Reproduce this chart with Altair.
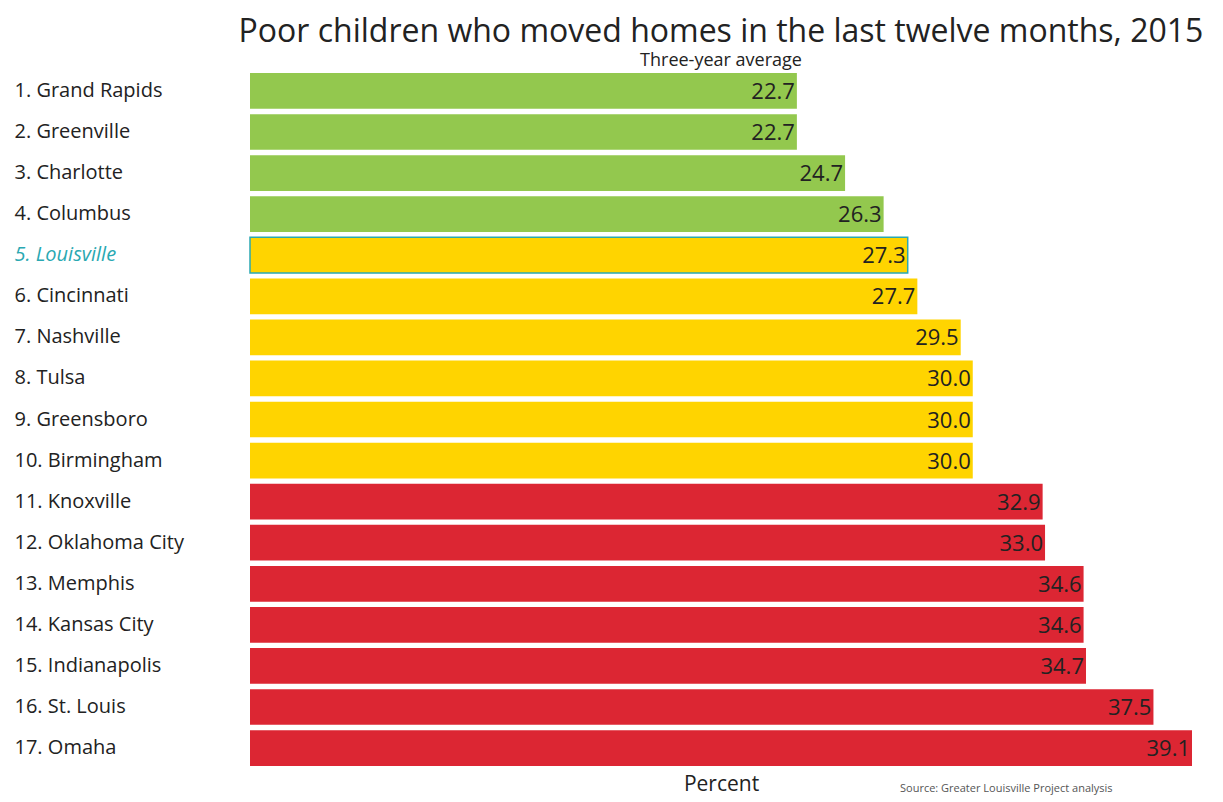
import altair as alt
import pandas as pd

cities = ["1. Grand Rapids", "2. Greenville", "3. Charlotte", "4. Columbus",
          "5. Louisville", "6. Cincinnati", "7. Nashville", "8. Tulsa",
          "9. Greensboro", "10. Birmingham", "11. Knoxville", "12. Oklahoma City",
          "13. Memphis", "14. Kansas City", "15. Indianapolis", "16. St. Louis",
          "17. Omaha"]
values = [22.7, 22.7, 24.7, 26.3, 27.3, 27.7, 29.5, 30.0, 30.0, 30.0,
          32.9, 33.0, 34.6, 34.6, 34.7, 37.5, 39.1]
groups = ["top"] * 4 + ["mid"] * 6 + ["bottom"] * 7
highlight = "5. Louisville"
source_text = "Source: Greater Louisville Project analysis"

df = pd.DataFrame({"city": cities, "value": values, "group": groups})
df["label"] = df["value"].map(lambda v: f"{v:.1f}")
df["hl"] = df["city"] == highlight

FONT = "Open Sans"
TEAL = "#2aa8b2"
INK = "#222222"
W, H = 942, 697

y = alt.Y("city:N", sort=cities, title=None,
          scale=alt.Scale(paddingInner=0.13, paddingOuter=0.05),
          axis=alt.Axis(labelAlign="left", labelPadding=236, ticks=False, domain=False,
                        labelFontSize=20, labelFont=FONT,
                        labelColor=alt.expr(f"datum.value == '{highlight}' ? '{TEAL}' : '{INK}'"),
                        labelFontStyle=alt.expr(f"datum.value == '{highlight}' ? 'italic' : 'normal'"),
                        labelLimit=240))
x = alt.X("value:Q", title="Percent",
          scale=alt.Scale(domain=[0, 39.1], nice=False, zero=True),
          axis=alt.Axis(labels=False, ticks=False, domain=False, grid=False,
                        titleFontSize=21, titleFont=FONT, titleFontWeight="normal",
                        titleColor=INK, titlePadding=5))

color = alt.Color("group:N", legend=None,
                  scale=alt.Scale(domain=["top", "mid", "bottom"],
                                  range=["#93c84e", "#ffd400", "#dc2633"]))

bars = alt.Chart(df).mark_bar().encode(
    x=x, y=y, color=color,
    stroke=alt.condition("datum.hl", alt.value(TEAL), alt.value(None)),
    strokeWidth=alt.condition("datum.hl", alt.value(1.5), alt.value(0)),
)

labels = alt.Chart(df).mark_text(align="right", baseline="middle", dx=-2, dy=1,
                                 fontSize=22, font=FONT, color=INK).encode(
    x="value:Q", y=alt.Y("city:N", sort=cities), text="label:N")

source = alt.Chart(pd.DataFrame({"t": [source_text]})).mark_text(
    align="left", baseline="alphabetic", fontSize=11, font=FONT, color="#555555").encode(
    x=alt.value(650), y=alt.value(H + 24), text="t:N")

chart = alt.layer(bars, labels, source).properties(
    width=W, height=H,
    padding={"left": 6, "right": 6, "top": 8, "bottom": 4},
    title=alt.TitleParams(
        "Poor children who moved homes in the last twelve months, 2015",
        subtitle="Three-year average",
        anchor="middle", frame="group", fontSize=32, font=FONT, fontWeight="normal",
        color=INK, subtitleFont=FONT, subtitleFontSize=18, subtitleColor=INK,
        subtitlePadding=3, offset=0),
).configure(background="white").configure_view(stroke=None, strokeWidth=0)

chart.save("out.html", embed_options={"renderer": "svg", "actions": False})
